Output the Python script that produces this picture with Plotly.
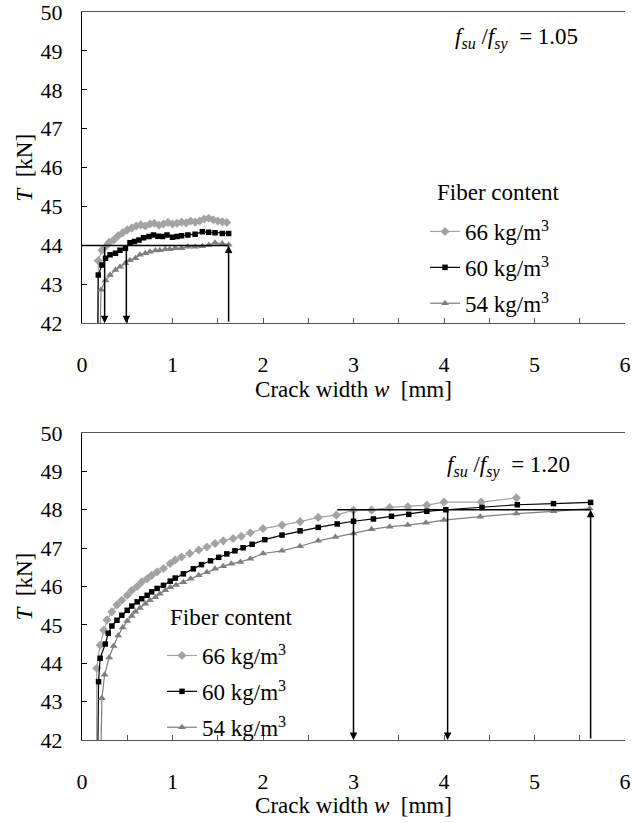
import plotly.graph_objects as go

# ---------------- data ----------------
# Panel 1: f_su/f_sy = 1.05
w66_a = [0.17, 0.18, 0.22, 0.26, 0.30, 0.35, 0.40, 0.45, 0.50, 0.55, 0.60, 0.65, 0.70, 0.75, 0.80, 0.85,
         0.90, 0.95, 1.00, 1.05, 1.10, 1.15, 1.20, 1.25, 1.30, 1.35, 1.40, 1.45, 1.50, 1.55, 1.60]
T66_a = [40.5, 43.61, 43.88, 43.97, 44.08, 44.14, 44.25, 44.33, 44.40, 44.45, 44.50, 44.53, 44.50, 44.55,
         44.57, 44.52, 44.55, 44.59, 44.55, 44.57, 44.60, 44.58, 44.63, 44.60, 44.63, 44.68, 44.70, 44.66,
         44.63, 44.61, 44.59]
w60_a = [0.17, 0.18, 0.22, 0.26, 0.31, 0.37, 0.42, 0.48, 0.53, 0.58, 0.63, 0.68, 0.74, 0.79, 0.84, 0.89,
         0.94, 1.00, 1.05, 1.10, 1.17, 1.25, 1.33, 1.40, 1.47, 1.55, 1.62]
T60_a = [40.5, 43.24, 43.50, 43.67, 43.76, 43.80, 43.88, 43.93, 44.07, 44.10, 44.14, 44.20, 44.23, 44.27,
         44.24, 44.23, 44.27, 44.21, 44.23, 44.25, 44.27, 44.29, 44.35, 44.34, 44.33, 44.31, 44.31]
w54_a = [0.19, 0.21, 0.26, 0.31, 0.37, 0.42, 0.48, 0.53, 0.59, 0.64, 0.70, 0.75, 0.81, 0.86, 0.92, 0.97,
         1.03, 1.10, 1.17, 1.25, 1.33, 1.40, 1.47, 1.55, 1.62]
T54_a = [40.5, 42.86, 43.10, 43.24, 43.37, 43.45, 43.54, 43.62, 43.67, 43.76, 43.80, 43.84, 43.87, 43.88,
         43.90, 43.90, 43.93, 43.93, 43.97, 43.97, 43.98, 44.01, 44.07, 44.05, 44.02]

# Panel 2: f_su/f_sy = 1.20
w66_b = [0.16, 0.163, 0.20, 0.24, 0.276, 0.33, 0.386, 0.44, 0.50, 0.55, 0.61, 0.66, 0.72, 0.77, 0.83, 0.90,
         0.975, 1.03, 1.10, 1.19, 1.29, 1.38, 1.47, 1.56, 1.67, 1.76, 1.86, 2.00, 2.21, 2.41, 2.61, 2.81,
         3.00, 3.20, 3.40, 3.60, 3.81, 4.00, 4.41, 4.80]
T66_b = [40.5, 43.87, 44.47, 44.86, 45.13, 45.34, 45.52, 45.64, 45.77, 45.90, 46.00, 46.12, 46.20, 46.29,
         46.38, 46.47, 46.60, 46.69, 46.77, 46.86, 46.95, 47.03, 47.12, 47.19, 47.25, 47.31, 47.40, 47.51,
         47.60, 47.69, 47.80, 47.86, 47.99, 47.99, 48.06, 48.08, 48.12, 48.20, 48.20, 48.31]
w60_b = [0.17, 0.183, 0.20, 0.257, 0.29, 0.33, 0.386, 0.44, 0.50, 0.55, 0.61, 0.66, 0.72, 0.77, 0.83, 0.90,
         0.975, 1.03, 1.12, 1.23, 1.32, 1.42, 1.51, 1.60, 1.69, 1.78, 1.88, 2.02, 2.21, 2.41, 2.61, 2.82,
         3.00, 3.22, 3.42, 3.61, 3.81, 4.02, 4.42, 4.81, 5.21, 5.62]
T60_b = [40.5, 43.52, 44.13, 44.50, 44.78, 44.97, 45.12, 45.25, 45.38, 45.49, 45.60, 45.68, 45.77, 45.86,
         45.95, 46.03, 46.14, 46.22, 46.33, 46.46, 46.57, 46.67, 46.76, 46.85, 46.93, 47.01, 47.10, 47.22,
         47.34, 47.45, 47.54, 47.63, 47.70, 47.76, 47.83, 47.88, 47.96, 48.00, 48.06, 48.13, 48.16, 48.19]
w54_b = [0.20, 0.22, 0.25, 0.30, 0.35, 0.40, 0.45, 0.50, 0.55, 0.59, 0.64, 0.70, 0.75, 0.81, 0.86, 0.92,
         0.975, 1.04, 1.12, 1.20, 1.29, 1.38, 1.47, 1.56, 1.65, 1.75, 1.86, 2.00, 2.21, 2.41, 2.61, 2.80,
         3.00, 3.20, 3.40, 3.60, 3.80, 4.00, 4.40, 4.80, 5.21, 5.61]
T54_b = [40.5, 43.09, 43.70, 44.15, 44.45, 44.72, 44.93, 45.10, 45.23, 45.34, 45.44, 45.55, 45.64, 45.72,
         45.81, 45.90, 45.98, 46.04, 46.11, 46.20, 46.29, 46.37, 46.46, 46.53, 46.59, 46.64, 46.72, 46.86,
         46.93, 47.05, 47.19, 47.29, 47.38, 47.49, 47.56, 47.60, 47.66, 47.73, 47.82, 47.90, 47.96, 48.03]

series_labels = ["66 kg/m<sup>3</sup>", "60 kg/m<sup>3</sup>", "54 kg/m<sup>3</sup>"]
legend_title = "Fiber content"
ratio_labels = ["1.05", "1.20"]
x_title = "Crack width <i>w</i>\u00a0 [mm]"
y_title = "<i>T</i>\u00a0 [kN]"

# reference load levels and crack widths where each curve reaches it
T_ref = [44.0, 48.0]
w_cross_a = [0.25, 0.49, 1.62]   # 66, 60 (down arrows), 54 (up arrow)
w_cross_b = [3.00, 4.04, 5.62]
line_start = [0.0, 2.82]

x_ticks = [0, 1, 2, 3, 4, 5, 6]
y_ticks = [42, 43, 44, 45, 46, 47, 48, 49, 50]

# ---------------- styling ----------------
FONT = "Liberation Serif"
FS = 23
tfont = dict(family=FONT, size=FS, color="black")
tickfont = dict(family=FONT, size=22, color="black")
colors = ["#a3a3a3", "#000000", "#7f7f7f"]
symbols = ["diamond", "square", "triangle-up"]
msizes = [7, 5.5, 7]

fig = go.Figure()

panels = [
    ([(w66_a, T66_a), (w60_a, T60_a), (w54_a, T54_a)], "x", "y", "legend"),
    ([(w66_b, T66_b), (w60_b, T60_b), (w54_b, T54_b)], "x2", "y2", "legend2"),
]
for pi, (series, xa, ya, lg) in enumerate(panels):
    for si, (w, T) in enumerate(series):
        fig.add_trace(go.Scatter(
            x=w, y=T, xaxis=xa, yaxis=ya, mode="lines+markers",
            name=series_labels[si], legend=lg, legendgroup=f"p{pi}s{si}",
            line=dict(color=colors[si], width=1.2),
            marker=dict(symbol=symbols[si], size=msizes[si], color=colors[si],
                        line=dict(width=0)),
            cliponaxis=True,
        ))

axis_common = dict(showgrid=False, zeroline=False, showline=True, tickfont=tickfont,
                   ticklabeloverflow="allow")

x_common = dict(axis_common, range=[0, 6], tickvals=x_ticks, ticks="inside", ticklen=5,
                tickcolor="#555555", linecolor="#555555", linewidth=1.2, mirror=True,
                minor=dict(dtick=0.5, ticks="inside", ticklen=5, tickcolor="#555555"),
                ticklabelstandoff=21,
                title=dict(text=x_title, font=tfont, standoff=3))
y_common = dict(axis_common, range=[42, 50], tickvals=y_ticks, ticks="inside", ticklen=5,
                tickcolor="black", linecolor="black", linewidth=1.2,
                ticklabelstandoff=14)

legend_common = dict(
    xref="container", yref="container", xanchor="left", yanchor="top",
    bgcolor="rgba(255,255,255,0)", borderwidth=0, font=tfont,
    tracegroupgap=3, itemwidth=30, traceorder="grouped",
)

fig.update_layout(
    width=632, height=823,
    margin=dict(l=82, r=7, t=12, b=83, autoexpand=False),
    paper_bgcolor="white", plot_bgcolor="white",
    font=tfont,
    xaxis=dict(x_common, domain=[0, 1], anchor="y"),
    yaxis=dict(y_common, domain=[0.5724, 1.0], anchor="x"),
    xaxis2=dict(x_common, domain=[0, 1], anchor="y2"),
    yaxis2=dict(y_common, domain=[0.0, 0.4217], anchor="x2"),
    legend=dict(legend_common, x=425 / 632, y=1 - 210 / 823),
    legend2=dict(legend_common, x=162 / 632, y=1 - 634 / 823),
    showlegend=True,
)

# legend headings
for px, py in [(435, 192), (168, 617)]:
    fig.add_annotation(xref="paper", yref="paper", x=(px - 82) / 543, y=(740 - py) / 728,
                       xanchor="left", yanchor="middle", showarrow=False,
                       text=legend_title, font=tfont)

# y axis titles (rotated)
for ya in ["y", "y2"]:
    fig.add_annotation(xref="paper", yref=f"{ya} domain", x=(25 - 82) / 543, y=0.5,
                       xanchor="center", yanchor="middle", showarrow=False,
                       textangle=-90, text=y_title, font=tfont)

# reference load lines and arrows
for pi, (xa, ya, wc) in enumerate([("x", "y", w_cross_a), ("x2", "y2", w_cross_b)]):
    fig.add_shape(type="line", xref=xa, yref=ya, x0=line_start[pi], x1=wc[2],
                  y0=T_ref[pi], y1=T_ref[pi], line=dict(color="black", width=1.5))
    for k, wv in enumerate(wc):
        if k < 2:
            head_y, tail_y = 42, T_ref[pi]
        else:
            head_y, tail_y = T_ref[pi], 42
        fig.add_annotation(x=wv, y=head_y, ax=wv, ay=tail_y, xref=xa, yref=ya,
                           axref=xa, ayref=ya, text="", showarrow=True,
                           arrowhead=2, arrowsize=1, arrowwidth=1.5,
                           arrowcolor="black", standoff=0, startstandoff=0)

# ratio labels
for pi, (xa, ya, xx, yy) in enumerate([("x", "y", 0.917, 0.915), ("x2", "y2", 0.902, 0.89)]):
    fig.add_annotation(
        xref=f"{xa} domain", yref=f"{ya} domain", x=xx, y=yy,
        xanchor="right", yanchor="middle", showarrow=False,
        text=f"<i>f</i><sub><i>su</i></sub> /<i>f</i><sub><i>sy</i></sub>\u00a0 = {ratio_labels[pi]}",
        font=tfont)

fig.write_html("out.html")
